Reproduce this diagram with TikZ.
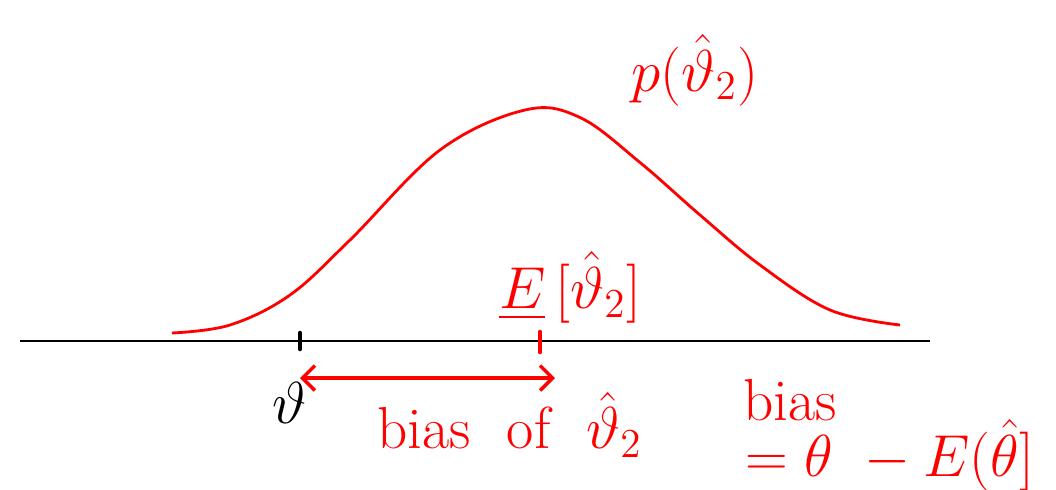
\documentclass[tikz,border=0pt]{standalone}
\usepackage{amsmath}
\usetikzlibrary{arrows.meta}
\definecolor{inkred}{HTML}{FF0000}
\definecolor{inkblack}{HTML}{000000}

\begin{document}
\begin{tikzpicture}[
  axis/.style={draw=inkblack, line width=1.6pt},
  tick/.style={line width=2.6pt, line cap=round},
  density/.style={draw=inkred, line width=1.6pt},
  span/.style={draw=inkred, line width=2pt, {Straight Barb[length=2.5mm, width=5mm]}-{Straight Barb[length=2.5mm, width=5mm]}},
  big/.style={font=\LARGE, scale=1.95, transform shape},
  lab/.style={big, text=inkred},
]
\useasboundingbox (0,0) rectangle (21.12,-9.78);
% ================= axis with the two marked points ==========================
\coordinate (axl) at (0.4,-6.82);
\coordinate (axr) at (18.6,-6.82);
\draw[axis] (axl) -- (axr);
\coordinate (theta) at (6.0,-6.82);
\coordinate (mean) at (10.8,-6.82);
\draw[tick, draw=inkblack] ([yshift=1.6mm]theta) -- ([yshift=-1.6mm]theta);
\draw[tick, draw=inkred] ([yshift=1.8mm]mean) -- ([yshift=-2.2mm]mean);
% ================= sampling density of the estimator ========================
\draw[density] plot[smooth, tension=0.6] coordinates {
  (3.44,-6.66) (4.6,-6.5) (5.8,-5.9) (7.0,-4.8) (8.8,-3.0)
  (10.5,-2.2) (11.6,-2.35) (12.8,-3.25) (14.0,-4.3) (15.2,-5.3) (16.6,-6.2) (18.0,-6.5)};
\node[lab] (dens) at (13.9,-1.4) {$p(\hat\vartheta_2)$};
\node[lab] (expect) at (11.4,-5.75) {$\underline{E}\,[\hat\vartheta_2]$};
% ================= bias span ================================================
\coordinate (sl) at (6.0,-7.56);
\coordinate (sr) at (11.1,-7.56);
\draw[span] (sl) -- (sr);
\node[big] (truth) at (5.8,-8.05) {$\vartheta$};
\node[lab] (biaslab) at (10.2,-8.5) {bias\ \ of\ \ $\hat\vartheta_2$};
% ================= definition note ==========================================
\node[lab] (bias) at (15.8,-8.0) {bias};
\node[lab] (defn) at (17.8,-9.1) {$=\theta\ -E(\hat\theta]$};
\end{tikzpicture}
\end{document}
